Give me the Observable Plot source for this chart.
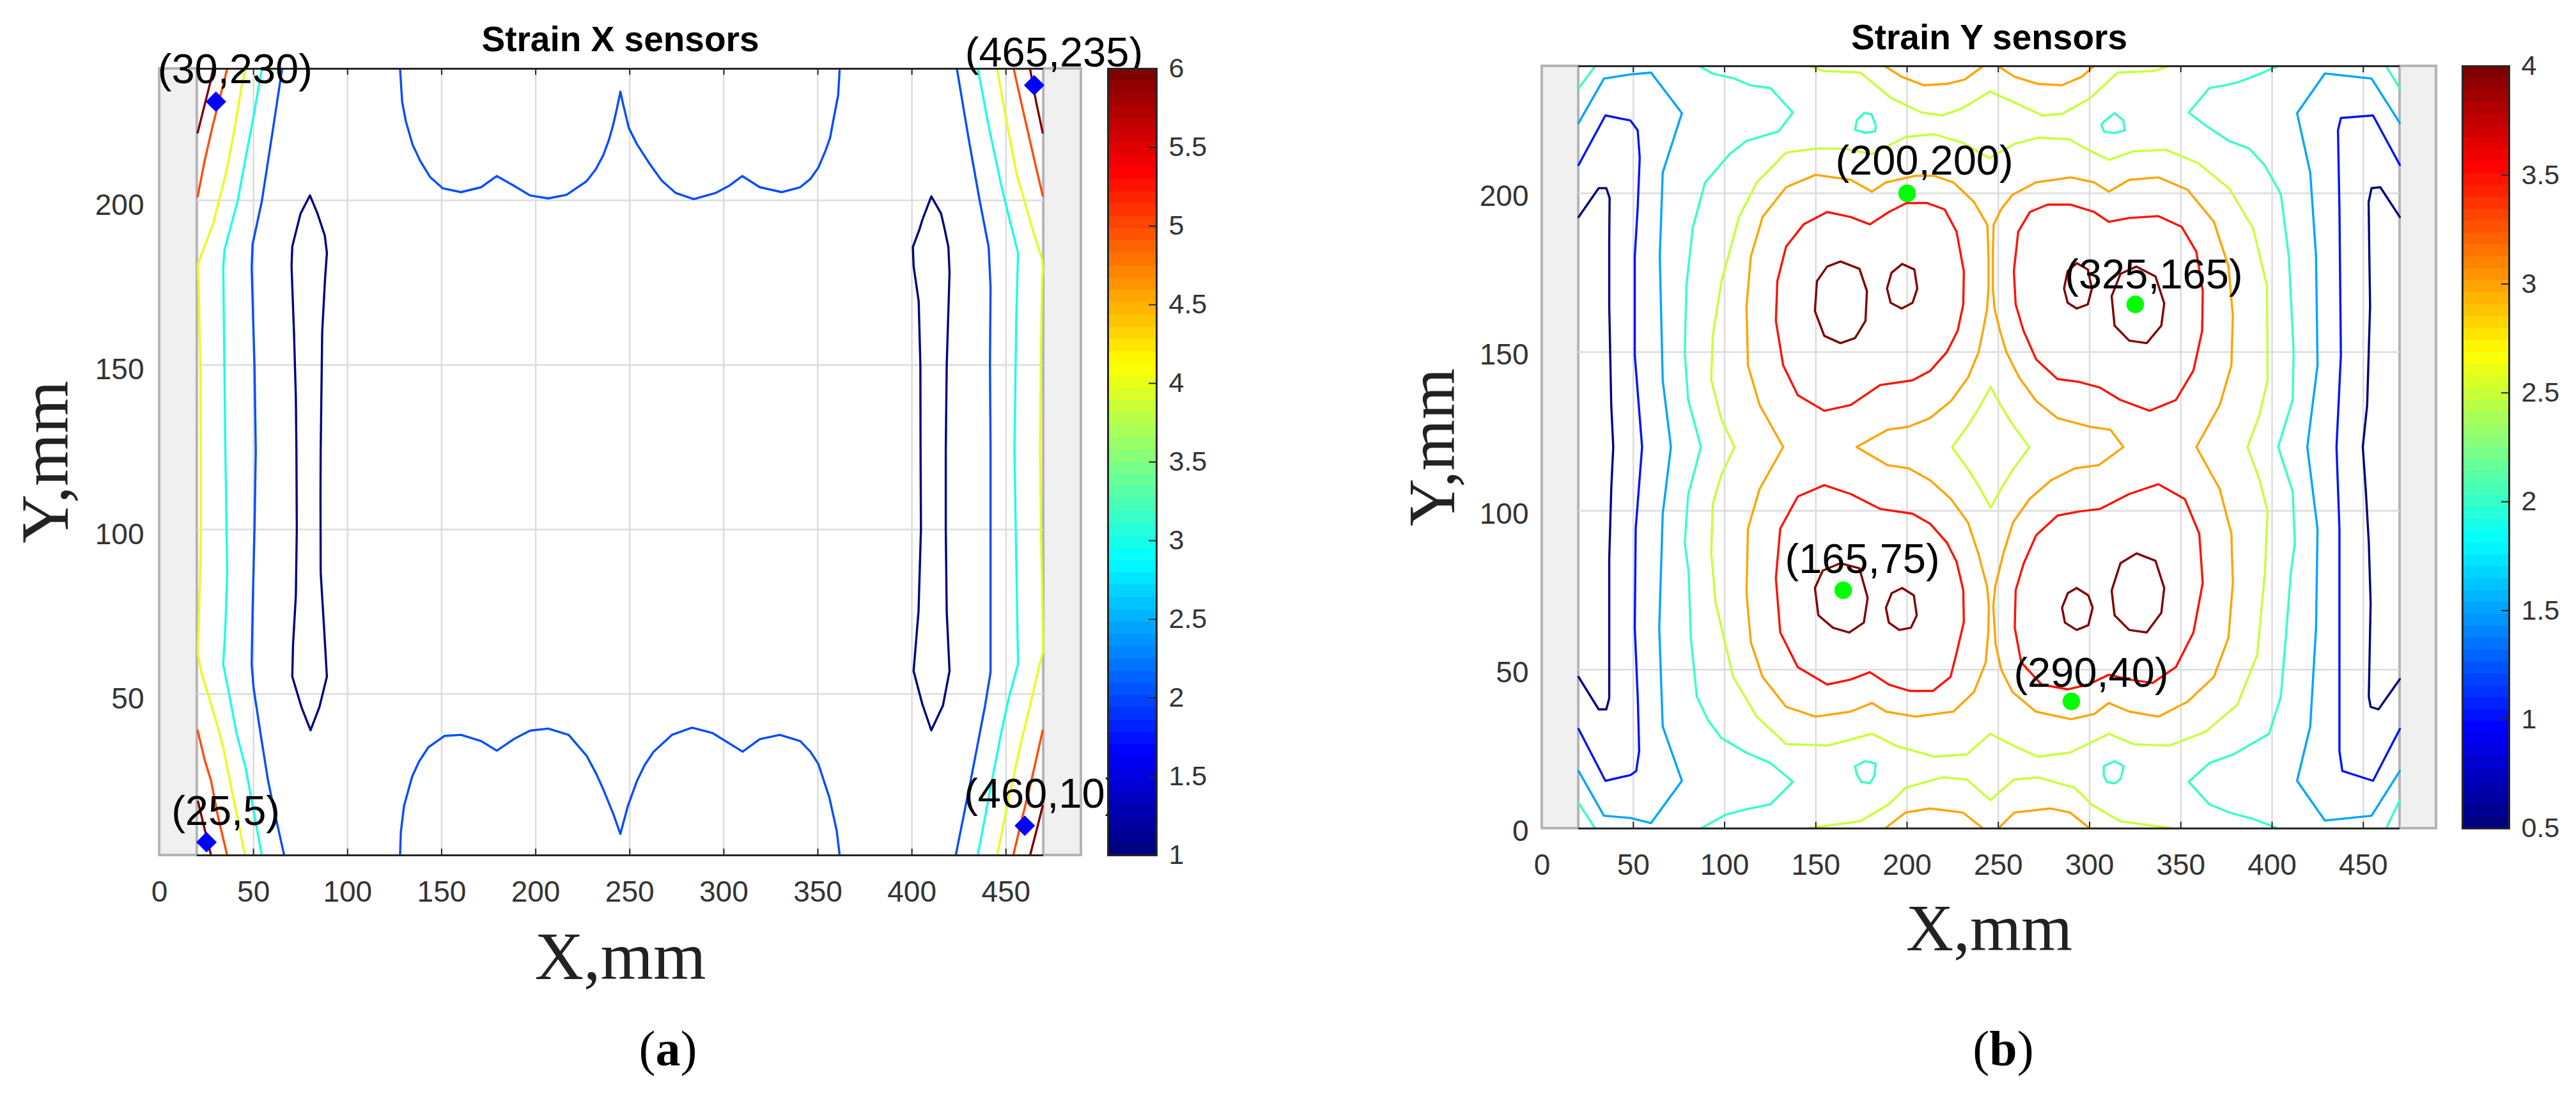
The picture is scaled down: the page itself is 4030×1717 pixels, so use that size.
<!DOCTYPE html>
<html><head><meta charset="utf-8">
<script src="https://cdn.jsdelivr.net/npm/d3@7"></script>
<script src="https://cdn.jsdelivr.net/npm/@observablehq/plot@0.6"></script>
<style>
body{margin:0;background:#fff}
#page{position:relative;width:4030px;height:1717px;overflow:hidden;background:#fff}
#page svg{position:absolute;overflow:visible;max-width:none}
.cap{position:absolute;font-family:"Liberation Serif","Times New Roman",serif;font-size:78px;line-height:78px;transform:translateX(-50%);white-space:nowrap;color:#000}
</style></head><body><div id="page"></div><script>
// ---------- ticks ----------
const xTicks = [0,50,100,150,200,250,300,350,400,450];
const xGrid = [50,100,150,200,250,300,350,400,450];
const sxYTicks = [50,100,150,200];
const syYTicks = [0,50,100,150,200];
const yGrid = [50,100,150,200];
const plateEdges = [[0,20],[470,490]];
const sxColorTicks = [1,1.5,2,2.5,3,3.5,4,4.5,5,5.5,6];
const syColorTicks = [0.5,1,1.5,2,2.5,3,3.5,4];
const panelTitles = ["Strain X sensors","Strain Y sensors"];
const panelCaptions = ["a","b"];

// ---------- sensors ----------
const sxSensors = [[30,230],[465,235],[25,5],[460,10]];
const sySensors = [[200,200],[325,165],[165,75],[290,40]];

// ---------- Strain X contour lines (levels 1..6) ----------
const sxLevels = [1,2,3,4,5,6];
const sxLevel1 = [
 [[80,201.5],[75,196],[70.6,186],[70.2,180],[71.5,160],[72.5,140],[72.8,124],[73,100],[72.5,80],[71,65],[70.6,55.3],[75.5,46],[80.3,39],[85,46],[89,55.3],[87.5,70],[85.7,87],[85.6,110],[85.7,124],[86.5,160],[88,176],[89,184],[87.9,189.3],[84,196],[80,201.5]],
 [[410.3,201.2],[405.5,194],[403.9,191],[400.5,185.8],[400.9,180],[403.6,169.3],[404.5,150],[404.6,124],[404.8,100],[403.5,75],[400.9,57],[405.5,47],[410.3,39],[416.5,46.5],[420,57],[418.5,75],[418,100],[418,124],[418.5,150],[420,178],[419.4,185.8],[417.5,191],[415.5,196],[410.3,201.2]]
];
const sxLevel2 = [
 [[65.2,240],[59.8,219.7],[54.4,199.7],[49.5,186.7],[49,179.7],[50.5,150],[51.2,124],[50.5,100],[49.5,75],[49,59],[50.1,51.5],[54,37],[57.7,23.7],[62,12],[66.3,1]],
 [[423.9,240],[430.1,218.9],[436,200],[440.8,185.8],[441.8,173.7],[441.5,150],[441.8,125],[441.8,100],[441.8,75],[441.8,56.6],[438.9,46.5],[431,23],[423.3,1]],
 [[127.9,240],[129,230],[131,224],[134.5,217],[138.7,211.9],[144,207],[150.5,203.7],[160.3,202.5],[171,204],[179.3,207.4],[188.3,204.5],[197,201.5],[206.7,200.6],[216.4,201.7],[227,205.8],[232,209.5],[235.9,213.7],[239,218.5],[241.3,223.2],[243.2,228],[245,233],[247,228],[249.5,222],[253.9,217],[260.7,211],[267,206],[274.3,202.3],[284,200.4],[295.8,202.3],[303,204.5],[309.8,207.4],[319.1,204],[330.8,202.5],[340.6,204],[346,206.5],[350.3,210],[354,215],[356.5,219],[358.1,224],[360.8,232],[361.6,240]],
 [[127.9,1],[128.3,8],[130,16],[134.3,24.9],[138,29.5],[142.9,33.8],[151.6,37.3],[160.3,37.6],[171,35.7],[179.3,32.8],[188.3,36.3],[197,38.9],[206.7,39.5],[217.5,37.6],[227,31.3],[232,26],[235.9,21.1],[241.3,13.5],[245,7.5],[249,16],[253.9,23.7],[258,28.5],[262.7,32.5],[272.4,37.6],[283.1,39.8],[293.8,38.2],[310,32.5],[319.1,36.3],[329.8,37.6],[340.6,35.7],[346,32.5],[350.3,28.7],[356.1,18.6],[360,8.5],[361.6,1]]
];
const sxLevel3 = [
 [[54.4,240],[50.1,225.8],[45.5,212],[41.5,199.7],[34.6,185],[33.9,179.7],[34.5,150],[35,124.9],[36,87],[35,70],[33.9,59],[37,50],[41,38],[45.8,27.5],[54.4,1]],
 [[435,240],[441,222],[447.7,204],[452,194],[456.4,184],[455.5,165],[454.5,124],[455.5,90],[456.4,59.1],[451.6,49],[447,37],[443,25],[435,1]]
];
const sxLevel4 = [
 [[45.8,240],[43.6,234.5],[40,222],[36,210],[33.9,205],[28.5,192.8],[20.3,180.5],[21,170],[21.7,150],[22,120],[22,100],[21.5,84],[20.3,62.5],[22.5,56],[26.3,49],[30,42],[33.9,33.8],[38,22],[42,11],[45.4,1]],
 [[445.3,240],[450,225],[455.5,208.4],[463.3,192.8],[469.1,182.3],[469.7,179],[469.2,176],[468.5,150],[468.1,124],[468.6,100],[469.3,80],[469.8,63],[467.5,58],[463,47],[457.4,33.8],[451,17],[445.3,1]]
];
const sxLevel5 = [
 [[20.3,201.2],[24,212],[28,222],[32,231],[36,240]],
 [[20.3,38.9],[24,30],[27.4,23.7],[31,13],[36,1]],
 [[454.1,240],[458,230],[462,220],[466,210],[469.5,201.5]],
 [[469.5,38.9],[466,30],[462,20],[458,11],[453.9,1]]
];
const sxLevel6 = [
 [[20.3,220.6],[24,229],[27,235.8],[28.5,240]],
 [[20.5,17.3],[24,9],[27.4,1]],
 [[462.8,240],[466,230],[469.5,220.6]],
 [[462.8,1],[466,8],[469.5,16]]
];

// ---------- Strain Y contour lines (levels 0.5..4) ----------
const syLevels = [0.5,1,1.5,2,2.5,3,3.5,4];
const syLevel05 = [
 [[20,192.5],[31,201.6],[35.2,201.6],[37,198.5],[36.8,185],[36.8,164.5],[37.9,133.3],[39,120.1],[37.9,106.9],[36.8,85],[36.8,60],[36.8,41],[35.2,37.5],[31,37.5],[20,47.7]],
 [[470,192.5],[459.3,201.9],[454.5,201.6],[452.9,197.2],[453.3,180],[453.7,164.5],[452.1,133.3],[449.7,120.1],[451.3,106.9],[453,90],[454,71],[453,41.5],[454,38.3],[458.3,37.5],[470,47]]
];
const syLevel10 = [
 [[20,208.9],[34.7,224.5],[48.4,222.9],[52.4,219.8],[53.5,211.2],[52.4,195.6],[50.8,180.1],[50.8,148.9],[54.8,120.1],[51.3,94.4],[50.8,63.2],[52.5,40],[53.2,24.3],[51.6,18.1],[48.4,16.8],[34.7,15],[20,31.3]],
 [[470,208.9],[455.3,224.5],[437.7,223.7],[436.1,219.8],[436.9,195.6],[437.7,148.9],[435.3,120.1],[436.9,94.4],[436.9,24.3],[438.5,18.1],[455.3,15],[470,31.3]]
];
const syLevel15 = [
 [[20,222.1],[33.9,236.1],[48.4,237.4],[59.7,238],[76.6,225.2],[66.1,206.5],[64.5,180.1],[66.1,141.1],[70.6,120.1],[66.1,99.1],[64.2,63.2],[66.1,32.1],[76.6,15],[59.7,1.7],[48.4,3.3],[33.9,4],[20,18.1]],
 [[470,222.1],[454.5,236.1],[428.9,237.7],[413.7,225.2],[420.9,206.5],[424.1,180.1],[424.9,145.8],[419.3,120.1],[424.9,94.4],[424.1,63.2],[420.9,32.1],[413.7,15],[428.9,2.5],[454.5,4],[470,18.1]]
];
const syLevel20 = [
 [[86.2,240],[93.7,237.6],[104.9,236.2],[113.9,234],[125.1,233.1],[137.4,225.4],[129.6,219.5],[111.7,216.4],[102.7,212.3],[89.2,203.3],[82.5,188.9],[79.1,170.9],[78.2,150],[80,135],[87,120.1],[80,105],[78.2,90],[80.3,80.7],[81.5,60],[84.8,41.5],[91,34],[98.2,28.5],[111.7,23.9],[125.1,20.6],[137.4,14.7],[125.1,7.6],[111.7,6],[100.4,4.3],[87,0]],
 [[403.1,240],[389.6,236.7],[380.9,234.9],[374.3,234],[365.6,233.1],[354.3,225.4],[363.4,221.4],[376.5,216.4],[387.4,214.1],[396.1,208.7],[404.8,199.7],[409.2,179.9],[411.8,150],[411.3,135],[403.3,120.1],[411.3,106],[412.5,90],[410.3,80.7],[407.5,60],[404.8,41.5],[398.3,29.8],[378.7,23.3],[365.6,20.6],[354.3,14.7],[365.6,7.6],[376.5,5],[389.6,3],[403.1,0]],
 [[20,233],[29,240]],
 [[20,8],[29,0]],
 [[470,233],[462.5,240]],
 [[470,9],[462.5,0]],
 [[171.5,220],[172.5,223],[176.5,225.3],[180.5,224.8],[182.8,221.5],[182.5,219.5],[177,219],[171.5,220]],
 [[172.3,17.3],[171.5,19.6],[177,21.2],[182.8,20.4],[182,16.5],[179.6,14.2],[174.8,14.7],[172.3,17.3]],
 [[306.5,221.3],[307.3,222.3],[313.7,225.2],[318.5,222.9],[319.3,219.8],[313.7,219],[308.1,219.3],[306.5,221.3]],
 [[307.8,19.6],[313.7,21.2],[318.7,19.6],[317.1,15.7],[314,14.2],[309.6,14.6],[307.8,16.5],[307.8,19.6]]
];
const syLevel25 = [
 [[146.4,240],[154.3,238.5],[174.4,238],[191.3,229.9],[208,225.4],[219.3,224.5],[230.5,226.8],[245.2,232],[258.7,228.6],[274,224.5],[284.9,225],[300.2,229.9],[315.4,238],[335.1,238.5],[343.4,240]],
 [[145.3,0],[174.4,2.3],[190,7.6],[199.1,12.8],[219.3,16.1],[232.7,15.4],[245.6,8.9],[258.5,15.4],[271.7,16.1],[291.9,12.8],[301,7.6],[316.6,2.3],[345.7,0]],
 [[245,211],[230.5,215.9],[214.8,218.6],[199.1,217.7],[180.7,212.3],[166,214],[150.9,214.1],[133.7,212.8],[117.6,203.4],[107.9,192.5],[98.3,172.3],[93.5,155.1],[92.7,141.1],[98.3,128.7],[105.5,120.1],[98.3,111.5],[93.5,102.2],[92.7,86.6],[95.1,71],[104.7,47.7],[117.6,35.2],[133.7,26.6],[156.5,26.1],[180.7,29.8],[194.6,25.9],[214.8,22.6],[232.7,23.3],[245.6,29.8],[258.7,25.9],[271.8,22.6],[289.3,23.9],[310.6,29.8],[324.2,26.5],[343.8,26.1],[363.4,30.4],[380.9,38.9],[391.8,54.6],[396.1,80.7],[397.5,100],[393,110],[386.5,120.1],[393,130],[397.5,141],[397.2,170.9],[389.6,188.9],[376.5,201.5],[359.1,209.6],[341.6,213.7],[324,213.2],[310.6,210.5],[298,214],[289,217],[272,217.5],[258.7,215.5],[245,211]],
 [[245.8,139],[239.5,132.5],[233.5,127],[224.7,120],[233.5,113],[239.5,107.5],[245.8,101],[252,107.5],[258,113],[267,120],[258,127],[252,132.5],[245.8,139]]
];
const syLevel30 = [
 [[187.9,240],[196.9,236.7],[209.2,234],[221.6,234.4],[231.6,235.8],[241.7,240]],
 [[250,240],[258.7,236.7],[271.8,234.4],[284.9,234],[295.8,236.7],[302.3,240]],
 [[187.9,0],[199.1,5],[212.5,6.3],[230.5,5],[241.7,0]],
 [[250,0],[258.7,5],[278.4,6.3],[289.3,5],[300.2,0]],
 [[244,190],[236.7,197.2],[225.4,203.4],[214.8,205.5],[204.5,205.5],[188.4,203.4],[180.7,200.5],[169.1,204.2],[149.8,205.8],[133.7,201.9],[120.8,192.5],[114.4,180.1],[112,164.5],[112.8,145.8],[119.2,133.3],[132.1,120.1],[119.2,106.9],[112.8,94.4],[112,74.1],[114.4,58.6],[120.8,47.7],[133.7,38.3],[149.8,35.2],[169.1,36.8],[180.7,39.5],[188.4,36.8],[204.5,35.2],[225.4,36.8],[236.7,43],[243.1,52.3],[244.5,62],[244.8,70],[243.8,76.2],[239.2,86.2],[233.4,96.3],[224.1,103.7],[212.5,109.7],[200.8,113.4],[189.2,114.4],[172.3,120.1],[189.2,125.5],[200.8,126.5],[212.5,129.2],[224.1,134.6],[233.4,142],[239.2,150],[241.6,156.7],[243.8,163.4],[244.6,170],[244.6,180],[244,190]],
 [[247.4,190],[251.6,195],[257.7,199.5],[270.5,203.4],[289.7,205],[302.5,203.4],[310.5,200.5],[321.7,204.2],[337.7,205],[353.7,201.1],[368.1,191],[376.1,177],[378.5,161.4],[377.7,145.8],[371.3,133.3],[358.5,120.1],[371.3,106.9],[377.7,92.8],[378.5,77.3],[376.1,60.1],[368.1,47.7],[353.7,39.9],[337.7,35.2],[321.7,36.8],[310.5,39.5],[302.5,36],[289.7,34.4],[270.5,36.8],[257.7,43],[251.6,50],[248.5,58],[247.2,70],[248.3,76.2],[252.6,86.2],[258,96.3],[267,103.7],[279,109.7],[292,113.4],[305,114.4],[318.5,120.1],[311.5,125.5],[299.9,126.5],[282.4,129.2],[270.7,134.6],[261.4,142],[254.4,150],[250.9,156.7],[248,163.4],[247,170],[247,180],[247.4,190]]
];
const syLevel35 = [
 [[179.6,190.2],[169.1,192.5],[156.2,194.1],[143.3,190.2],[133.7,183.2],[128.9,172.3],[128.1,159.8],[132.1,145.8],[140.1,136.4],[154.6,131.5],[169.1,133.3],[185.2,139.6],[202.9,141.1],[212.5,144],[221.8,150],[227.7,156.7],[230.8,165],[231.1,175.4],[227.1,187.9],[220.6,194.9],[211,196.9],[199.7,196.9],[190,194.1],[179.6,190.2]],
 [[179.6,49.2],[169.1,46.9],[156.2,45.3],[140.1,50.8],[130.5,61.7],[128.1,78.8],[130.5,94.4],[140.1,104.5],[154.6,108.1],[169.1,105.3],[185.2,100.6],[202.9,99.1],[212.5,96],[221.8,90],[227.1,84],[230.8,75],[231.1,65],[227,55],[223.8,47.7],[214.2,43.3],[201.3,43.3],[190,45.3],[179.6,49.2]],
 [[310.5,191],[302.5,194.1],[289.7,196.4],[276.9,196.4],[267.3,194.1],[260.9,187.9],[258.5,175.4],[259.5,165],[263.8,156.7],[270.7,147.7],[282.4,141.5],[294.1,140.6],[305.7,138.8],[316.9,134.9],[332.9,131.5],[347.3,134.9],[356.9,144.2],[361.7,156.7],[362,169.2],[358.5,181.6],[350.5,189.4],[337.7,192.8],[321.7,192.2],[310.5,191]],
 [[310.5,48.4],[299.3,45.3],[288.1,43.8],[273.7,45.3],[262.5,52.3],[259,63.2],[259.5,75],[263.8,83.3],[270.7,92.3],[282.4,98.5],[294.1,99.8],[305.7,100.6],[321.7,105.3],[337.7,108.4],[352.2,103.7],[360.1,92.8],[362,77.3],[356.9,61.7],[347.3,50.8],[334.5,45.8],[321.7,46.9],[310.5,48.4]]
];
const syLevel40 = [
 [[163.5,178.5],[173.9,176.2],[178,169.2],[177.2,159.8],[171.5,154.4],[163.5,152.8],[154.6,155.1],[149.5,162.9],[150.6,172.3],[156.2,176.9],[163.5,178.5]],
 [[197.3,177.7],[204,176],[205.6,170],[203,165.5],[197,163.7],[191,165.5],[189,170],[191.5,175],[197.3,177.7]],
 [[163.5,83.5],[173.9,81.9],[178.4,72.6],[176.3,64.8],[168.3,61.7],[159.4,63.2],[151.4,67.1],[149.5,75.7],[153.8,81.2],[163.5,83.5]],
 [[197.3,75.7],[203.7,73.4],[205.3,67.1],[202.1,63.2],[195.7,62.5],[190,64.8],[188.4,69.5],[191.6,74.1],[197.3,75.7]],
 [[293,178],[299,176],[301.3,170],[299,165],[293,163.7],[288,165.5],[286,170],[288,175.5],[293,178]],
 [[325.7,176.9],[336.1,173.8],[340.9,165.3],[339.3,158.3],[331.3,152.8],[321.7,153.6],[313.7,158.3],[312.1,167.6],[316.9,174.6],[325.7,176.9]],
 [[292.9,75.7],[299.3,73.4],[301.7,69.5],[299.3,64],[292.9,62.5],[286.5,64.8],[284.9,69.5],[288.1,74.1],[292.9,75.7]],
 [[325.7,86.6],[336.1,84.3],[340.9,75.7],[339.3,67.9],[331.3,61.7],[321.7,62.5],[313.7,67.1],[312.1,74.9],[316.9,83.5],[325.7,86.6]]
];

// ---------- styling constants ----------
const sans = "'Liberation Sans', Arial, Helvetica, sans-serif";
const serif = "'Liberation Serif', 'Times New Roman', serif";
const sxLabelOffsets = [[30,-50],[31,-50],[30,-48],[26,-49]];
const syLabelOffsets = [[27,-50],[29,-46],[30,-48],[31,-44]];

function jet(t) {
  const c = v => Math.max(0, Math.min(1, v));
  const r = c(1.5 - Math.abs(4*t - 3)), g = c(1.5 - Math.abs(4*t - 2)), b = c(1.5 - Math.abs(4*t - 1));
  return `rgb(${Math.round(r*255)},${Math.round(g*255)},${Math.round(b*255)})`;
}

function toRows(levels, sets) {
  const rows = []; let id = 0;
  levels.forEach((level, k) => {
    for (const line of sets[k]) { for (const [x, y] of line) rows.push({x, y, level, id}); id++; }
  });
  return rows;
}

const plainNum = d => `${d}`;

function panel(cfg) {
  const frameH = cfg.height - cfg.marginTop - cfg.marginBottom;
  const yMin = cfg.yMin;
  return Plot.plot({
    width: cfg.width, height: cfg.height,
    marginLeft: cfg.marginLeft, marginRight: cfg.marginRight, marginTop: cfg.marginTop, marginBottom: cfg.marginBottom,
    x: {domain: [0, 490], axis: null},
    y: {domain: [yMin, 240], axis: null},
    color: {domain: cfg.cDomain, interpolate: jet},
    style: {fontFamily: sans, fontSize: "46px", background: "transparent", overflow: "visible"},
    marks: [
      Plot.rect(plateEdges, {x1: d => d[0], x2: d => d[1], y1: yMin, y2: 240, fill: "#f0f0f0", stroke: "#b4b4b4", strokeWidth: 4}),
      Plot.ruleX(xGrid, {y1: yMin, y2: 240, stroke: "#dcdcdc", strokeWidth: 2.5}),
      Plot.ruleY(yGrid, {x1: 20, x2: 470, stroke: "#dcdcdc", strokeWidth: 2.5}),
      Plot.line(cfg.rows, {x: "x", y: "y", z: "id", stroke: "level", strokeWidth: 3.4, strokeLinejoin: "round", strokeLinecap: "round"}),
      Plot.ruleY([yMin, 240], {x1: 20, x2: 470, stroke: "#262626", strokeWidth: 3}),
      Plot.tickX(xGrid, {insetBottom: frameH - 10, stroke: "#262626", strokeWidth: 2}),
      Plot.tickX(xGrid, {insetTop: frameH - 10, stroke: "#262626", strokeWidth: 2}),
      Plot.axisX(xTicks, {anchor: "bottom", tickSize: 0, tickPadding: 40, fontSize: 46, color: "#333", label: null, tickFormat: plainNum}),
      Plot.axisY(cfg.yTicks, {anchor: "left", tickSize: 0, tickPadding: cfg.yPad, dy: cfg.yDy, fontSize: 46, color: "#333", label: null, tickFormat: plainNum}),
      Plot.dot(cfg.sensors, {x: d => d[0], y: d => d[1], symbol: cfg.symbol, r: cfg.r, fill: cfg.markerFill, stroke: cfg.markerFill}),
      ...cfg.sensors.map((s, i) => Plot.text([s], {x: d => d[0], y: d => d[1], text: d => `(${d[0]},${d[1]})`, dx: cfg.offsets[i][0], dy: cfg.offsets[i][1], fontSize: 65, fill: "#000"})),
      Plot.text([cfg.title], {text: d => d, frameAnchor: "top", dy: cfg.titleDy, lineAnchor: "bottom", fontSize: 55, fontWeight: "bold", fill: "#000"}),
      Plot.text(["X,mm"], {text: d => d, frameAnchor: "bottom", dy: cfg.xLabelDy, lineAnchor: "bottom", fontSize: cfg.labelSize, fontFamily: serif, fill: "#222"}),
      Plot.text(["Y,mm"], {text: d => d, frameAnchor: "left", dx: cfg.yLabelDx, rotate: -90, lineAnchor: "bottom", textAnchor: "middle", fontSize: cfg.labelSize, fontFamily: serif, fill: "#222"})
    ]
  });
}

function colorbar(cfg) {
  const [lo, hi] = cfg.domain;
  const bands = d3.range(64).map(i => ({y1: lo + i*(hi-lo)/64, y2: lo + (i+1)*(hi-lo)/64, v: lo + i*(hi-lo)/63}));
  const frameW = cfg.width - cfg.marginLeft - cfg.marginRight;
  return Plot.plot({
    width: cfg.width, height: cfg.height,
    marginLeft: cfg.marginLeft, marginRight: cfg.marginRight, marginTop: cfg.marginTop, marginBottom: cfg.marginBottom,
    x: {domain: [0, 1], axis: null},
    y: {domain: cfg.domain, axis: null},
    color: {domain: cfg.domain, interpolate: jet},
    style: {fontFamily: sans, fontSize: "43px", background: "transparent", overflow: "visible"},
    marks: [
      Plot.rect(bands, {x1: 0, x2: 1, y1: "y1", y2: "y2", fill: "v", shapeRendering: "crispEdges"}),
      Plot.tickY(cfg.ticks, {insetLeft: frameW - 12, stroke: "#262626", strokeWidth: 2}),
      Plot.frame({stroke: "#262626", strokeWidth: 3}),
      Plot.axisY(cfg.ticks, {anchor: "right", tickSize: 0, tickPadding: 19, fontSize: 43, color: "#333", label: null, tickFormat: plainNum})
    ]
  });
}

const page = document.getElementById("page");
function place(el, left, top) { el.style.position = "absolute"; el.style.left = left + "px"; el.style.top = top + "px"; page.appendChild(el); }

const leftPanel = panel({
  width: 1700, height: 1717, marginLeft: 249, marginRight: 9, marginTop: 107, marginBottom: 380,
  yMin: 1, cDomain: [1, 6], yTicks: sxYTicks, yPad: 24, yDy: 8,
  rows: toRows(sxLevels, [sxLevel1, sxLevel2, sxLevel3, sxLevel4, sxLevel5, sxLevel6]),
  sensors: sxSensors, symbol: "diamond2", r: 13.5, markerFill: "#0000ff", offsets: sxLabelOffsets,
  title: panelTitles[0], titleDy: -27.5, xLabelDy: 193, yLabelDx: -144, labelSize: 106
});
place(leftPanel, 0, 0);
place(colorbar({domain: [1, 6], ticks: sxColorTicks, width: 250, height: 1717, marginLeft: 33, marginRight: 141, marginTop: 107, marginBottom: 380}), 1700, 0);

const rightPanel = panel({
  width: 1700, height: 1717, marginLeft: 262, marginRight: 39, marginTop: 103, marginBottom: 422,
  yMin: 0, cDomain: [0.5, 4], yTicks: syYTicks, yPad: 21, yDy: 5,
  rows: toRows(syLevels, [syLevel05, syLevel10, syLevel15, syLevel20, syLevel25, syLevel30, syLevel35, syLevel40]),
  sensors: sySensors, symbol: "circle", r: 13, markerFill: "#00ff00", offsets: syLabelOffsets,
  title: panelTitles[1], titleDy: -27, xLabelDy: 190, yLabelDx: -138, labelSize: 103
});
place(rightPanel, 2150, 0);
place(colorbar({domain: [0.5, 4], ticks: syColorTicks, width: 200, height: 1717, marginLeft: 22, marginRight: 105, marginTop: 103, marginBottom: 422}), 3830, 0);

// captions
[[panelCaptions[0], 1045], [panelCaptions[1], 3134]].forEach(([c, cx]) => {
  const d = document.createElement("div");
  d.className = "cap";
  d.innerHTML = `(<b>${c}</b>)`;
  d.style.left = cx + "px";
  d.style.top = "1601px";
  page.appendChild(d);
});
</script></body></html>
